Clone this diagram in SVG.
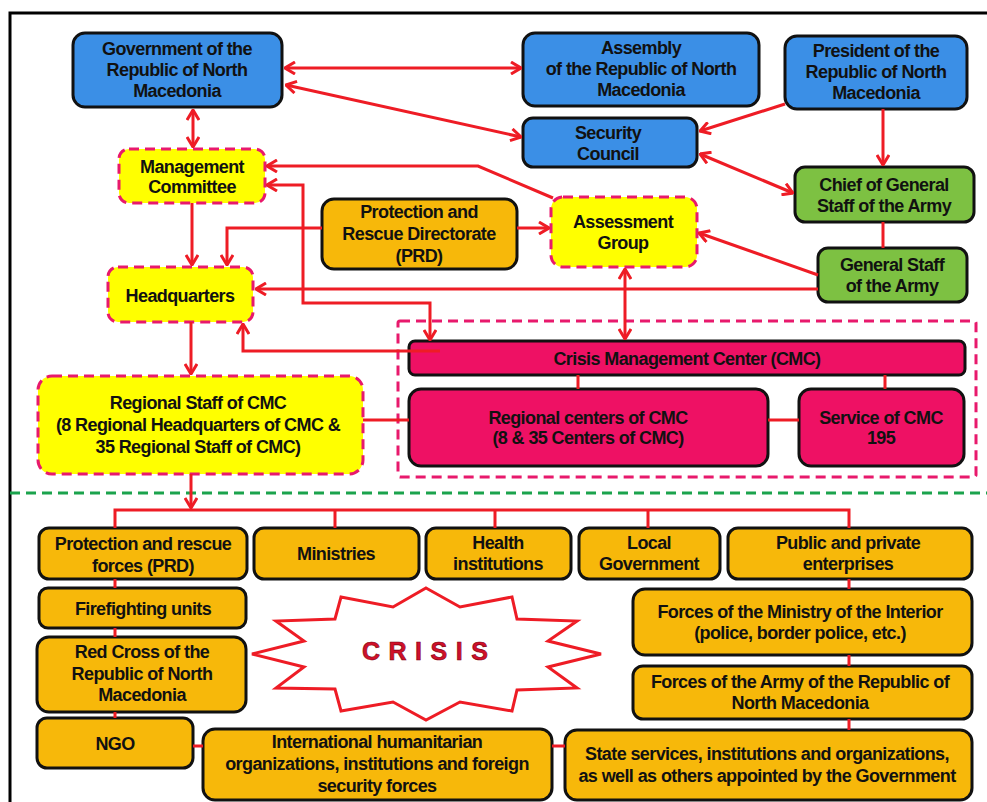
<svg xmlns="http://www.w3.org/2000/svg" width="987" height="802" viewBox="0 0 987 802">
<defs>
<style>
.t{font-family:"Liberation Sans",Arial,sans-serif;font-weight:bold;font-size:18px;letter-spacing:-0.6px;text-anchor:middle;fill:#111}
.blue{fill:#3b8fe6;stroke:#111;stroke-width:3}
.green{fill:#7dc142;stroke:#111;stroke-width:3}
.orange{fill:#f7b80a;stroke:#111;stroke-width:3}
.pink{fill:#ee1164;stroke:#111;stroke-width:3}
.yel{fill:#ffff00;stroke:#e8196c;stroke-width:3;stroke-dasharray:10 6}
.c{fill:none;stroke:#ee1c25;stroke-width:3}
.a{marker-end:url(#ah)}
.d{marker-start:url(#ah);marker-end:url(#ah)}
</style>
<marker id="ah" viewBox="0 0 12 14" refX="11" refY="7" markerWidth="12" markerHeight="14" orient="auto-start-reverse" markerUnits="userSpaceOnUse">
<path d="M1,1 L11,7 L1,13" fill="none" stroke="#ee1c25" stroke-width="3"/>
</marker>
</defs>
<rect x="0" y="0" width="987" height="802" fill="#fff"/>
<rect x="10" y="13" width="990" height="800" fill="none" stroke="#000" stroke-width="3"/>
<line x1="10" y1="493" x2="987" y2="493" stroke="#1ba34d" stroke-width="3" stroke-dasharray="10 6"/>

<g id="government"><rect class="blue" x="73" y="33" width="209" height="74" rx="12"/>
<text class="t" x="177" y="55">Government of the</text><text class="t" x="177" y="76">Republic of North</text><text class="t" x="177" y="97">Macedonia</text></g>
<g id="assembly"><rect class="blue" x="523" y="33" width="236" height="73" rx="12"/>
<text class="t" x="641" y="54">Assembly</text><text class="t" x="641" y="75">of the Republic of North</text><text class="t" x="641" y="96">Macedonia</text></g>
<g id="president"><rect class="blue" x="785" y="36" width="182" height="73" rx="12"/>
<text class="t" x="876" y="57">President of the</text><text class="t" x="876" y="78">Republic of North</text><text class="t" x="876" y="99">Macedonia</text></g>
<g id="security-council"><rect class="blue" x="523" y="118" width="174" height="49" rx="10"/>
<text class="t" x="608" y="139">Security</text><text class="t" x="608" y="160">Council</text></g>
<g id="chief"><rect class="green" x="795" y="167" width="179" height="55" rx="10"/>
<text class="t" x="884" y="191">Chief of General</text><text class="t" x="884" y="212">Staff of the Army</text></g>
<g id="general-staff"><rect class="green" x="818" y="248" width="149" height="54" rx="10"/>
<text class="t" x="892" y="271">General Staff</text><text class="t" x="892" y="292">of the Army</text></g>
<g id="assessment"><rect class="yel" x="551" y="197" width="146" height="70" rx="12"/>
<text class="t" x="623" y="228">Assessment</text><text class="t" x="623" y="249">Group</text></g>
<g id="management"><rect class="yel" x="119" y="149" width="146" height="54" rx="10"/>
<text class="t" x="192" y="173">Management</text><text class="t" x="192" y="193">Committee</text></g>
<g id="prd"><rect class="orange" x="322" y="199" width="195" height="70" rx="12"/>
<text class="t" x="419" y="218">Protection and</text><text class="t" x="419" y="240">Rescue Directorate</text><text class="t" x="419" y="262">(PRD)</text></g>
<g id="headquarters"><rect class="yel" x="108" y="267" width="145" height="55" rx="10"/>
<text class="t" x="180" y="302">Headquarters</text></g>
<g id="cmc-container"><rect x="398" y="321" width="578" height="156" rx="2" fill="none" stroke="#e8196c" stroke-width="3" stroke-dasharray="10 6"/></g>
<g id="cmc"><rect class="pink" x="409" y="341" width="556" height="34" rx="6"/>
<text class="t" x="687" y="365">Crisis Management Center (CMC)</text></g>
<g id="regional-centers"><rect class="pink" x="409" y="389" width="359" height="77" rx="12"/>
<text class="t" x="588" y="424">Regional centers of CMC</text><text class="t" x="588" y="444">(8 &amp; 35 Centers of CMC)</text></g>
<g id="service"><rect class="pink" x="799" y="389" width="165" height="77" rx="12"/>
<text class="t" x="881" y="424">Service of CMC</text><text class="t" x="881" y="444">195</text></g>
<g id="regional-staff"><rect class="yel" x="38" y="376" width="325" height="98" rx="14"/>
<text class="t" x="198" y="409">Regional Staff of CMC</text><text class="t" x="198" y="431">(8 Regional Headquarters of CMC &amp;</text><text class="t" x="198" y="453">35 Regional Staff of CMC)</text></g>

<g id="protection-forces"><rect class="orange" x="39" y="528" width="208" height="51" rx="10"/>
<text class="t" x="143" y="550">Protection and rescue</text><text class="t" x="143" y="572">forces (PRD)</text></g>
<g id="ministries"><rect class="orange" x="254" y="528" width="165" height="51" rx="10"/>
<text class="t" x="336" y="560">Ministries</text></g>
<g id="health"><rect class="orange" x="426" y="528" width="145" height="51" rx="10"/>
<text class="t" x="498" y="549">Health</text><text class="t" x="498" y="570">institutions</text></g>
<g id="local-government"><rect class="orange" x="579" y="528" width="141" height="51" rx="10"/>
<text class="t" x="649" y="549">Local</text><text class="t" x="649" y="570">Government</text></g>
<g id="enterprises"><rect class="orange" x="728" y="528" width="244" height="51" rx="10"/>
<text class="t" x="848" y="549">Public and private</text><text class="t" x="848" y="570">enterprises</text></g>
<g id="firefighting"><rect class="orange" x="39" y="588" width="207" height="40" rx="9"/>
<text class="t" x="143" y="615">Firefighting units</text></g>
<g id="red-cross"><rect class="orange" x="37" y="637" width="209" height="75" rx="12"/>
<text class="t" x="142" y="658">Red Cross of the</text><text class="t" x="142" y="680">Republic of North</text><text class="t" x="142" y="701">Macedonia</text></g>
<g id="ngo"><rect class="orange" x="37" y="718" width="156" height="50" rx="10"/>
<text class="t" x="115" y="750">NGO</text></g>
<g id="international"><rect class="orange" x="203" y="729" width="349" height="71" rx="12"/>
<text class="t" x="377" y="748">International humanitarian</text><text class="t" x="377" y="770">organizations, institutions and foreign</text><text class="t" x="377" y="792">security forces</text></g>
<g id="interior"><rect class="orange" x="633" y="589" width="339" height="66" rx="12"/>
<text class="t" x="800" y="618">Forces of the Ministry of the Interior</text><text class="t" x="800" y="639">(police, border police, etc.)</text></g>
<g id="army"><rect class="orange" x="633" y="666" width="339" height="53" rx="10"/>
<text class="t" x="800" y="688">Forces of the Army of the Republic of</text><text class="t" x="800" y="709">North Macedonia</text></g>
<g id="state-services"><rect class="orange" x="565" y="730" width="407" height="70" rx="12"/>
<text class="t" x="767" y="760">State services, institutions and organizations,</text><text class="t" x="767" y="782">as well as others appointed by the Government</text></g>

<g id="crisis">
<polygon points="426,588 460,607 512,597 517,619 577,621 548,641 601,654 548,667 577,688 517,690 512,711 460,702 426,720 393,702 341,711 335,689 276,688 304,667 252,654 304,641 276,621 335,619 341,597 393,607" fill="#fff" stroke="#ee1c25" stroke-width="3"/>
<text x="362" y="660" font-family="'Liberation Sans',Arial,sans-serif" font-weight="bold" font-size="25" letter-spacing="8.5" fill="#d0102a" stroke="#7a0010" stroke-width="0.6">CRISIS</text>
</g>

<g id="connectors">
<path class="c d" d="M285,68 L521,68"/>
<path class="c d" d="M286,85 L521,137"/>
<path class="c a" d="M785,104 L700,131"/>
<path class="c d" d="M700,154 L793,193"/>
<path class="c a" d="M883,109 L883,165"/>
<path class="c" d="M883,222 L883,248"/>
<path class="c a" d="M818,275 L699,233"/>
<path class="c a" d="M818,289 L256,289"/>
<path class="c a" d="M553,198 L478,166 L267,166"/>
<path class="c d" d="M267,185 L303,185 L303,303 L430,303 L430,340"/>
<path class="c a" d="M322,228 L227,228 L227,265"/>
<path class="c a" d="M192,203 L192,265"/>
<path class="c d" d="M193,110 L193,147"/>
<path class="c a" d="M517,228 L549,228"/>
<path class="c d" d="M625,269 L625,339"/>
<path class="c a" d="M440,351 L243,351 L243,324"/>
<path class="c" d="M363,420 L409,420"/>
<path class="c" d="M578,375 L578,389 M885,375 L885,389 M768,420 L799,420"/>
<path class="c a" d="M191,322 L191,374"/>
<path class="c a" d="M191,474 L191,508"/>
<path class="c" d="M115,528 L115,510 L849,510 L849,528 M335,510 L335,528 M495,510 L495,528 M648,510 L648,528"/>
<path class="c" d="M115,579 L115,588 M115,628 L115,637 M115,712 L115,718"/>
<path class="c" d="M193,746 L203,746 M552,746 L565,746"/>
<path class="c" d="M849,579 L849,589 M849,655 L849,666 M849,719 L849,730"/>
</g>
</svg>
